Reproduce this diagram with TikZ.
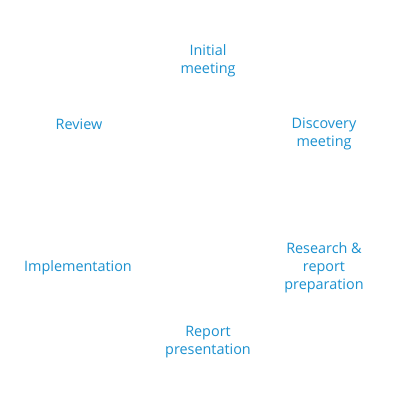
\documentclass[tikz,border=0pt]{standalone}
\usepackage{fontspec}
\setmainfont{Open Sans}
\definecolor{lbl}{HTML}{1A90CF}
\begin{document}
\begin{tikzpicture}[x=1pt,y=-1pt,
  lab/.style={text=lbl,align=center,font=\fontsize{14.4}{18}\selectfont,inner sep=0pt}]
\useasboundingbox (0,0) rectangle (400,401);
\node[lab] (init) at (208,60.5) {Initial\\meeting};
\node[lab] (disc) at (324,133.5) {Discovery\\meeting};
\node[lab] (res) at (324,267.5) {Research \&\\report\\preparation};
\node[lab] (pres) at (208,342.5) {Report\\presentation};
\node[lab] (impl) at (78,267.5) {Implementation};
\node[lab] (rev) at (79,124.5) {Review};
\end{tikzpicture}
\end{document}
